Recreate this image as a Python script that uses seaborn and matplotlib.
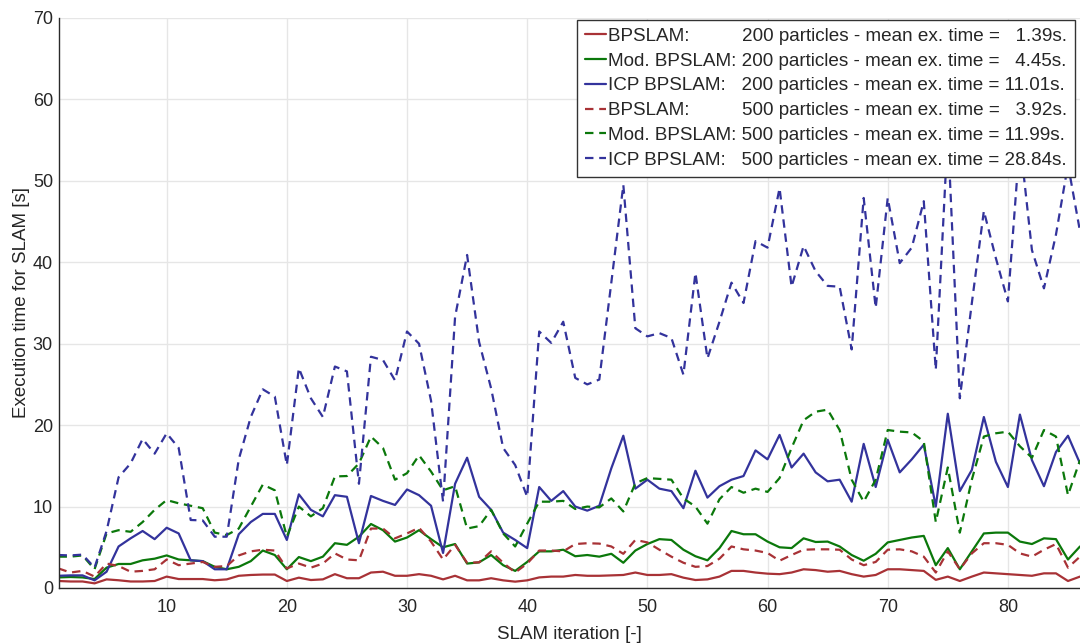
import numpy as np
import pandas as pd
import matplotlib
matplotlib.use("Agg")
import matplotlib.pyplot as plt
import seaborn as sns

iterations = list(range(1, 87))

bp200 = [0.86, 0.8, 0.8, 0.57, 1.06, 0.95, 0.8, 0.8, 0.86, 1.4, 1.1, 1.1, 1.1, 0.95, 1.06, 1.5, 1.6, 1.65, 1.65, 0.86,
         1.27, 0.98, 1.06, 1.7, 1.2, 1.2, 1.9, 2.0, 1.5, 1.5, 1.7, 1.5, 1.06, 1.5, 0.94, 0.94, 1.2, 0.94, 0.78, 0.94,
         1.3, 1.4, 1.4, 1.6, 1.5, 1.5, 1.55, 1.6, 1.9, 1.6, 1.6, 1.7, 1.27, 0.98, 1.06, 1.4, 2.1, 2.1, 1.9, 1.76,
         1.7, 1.9, 2.3, 2.2, 2.0, 2.1, 1.7, 1.4, 1.6, 2.3, 2.3, 2.2, 2.1, 1.0, 1.4, 0.86, 1.4, 1.9, 1.8, 1.7,
         1.6, 1.5, 1.8, 1.8, 0.86, 1.4]
mod200 = [1.3, 1.35, 1.3, 1.1, 2.5, 2.95, 2.95, 3.4, 3.6, 4.0, 3.5, 3.4, 3.3, 2.6, 2.3, 2.6, 3.3, 4.6, 4.05, 2.3,
          3.8, 3.3, 3.85, 5.5, 5.3, 6.3, 7.86, 7.1, 5.7, 6.2, 7.1, 6.0, 5.0, 5.4, 3.0, 3.15, 4.05, 2.8, 2.1, 3.2,
          4.5, 4.5, 4.7, 3.9, 4.05, 3.85, 4.2, 3.1, 4.6, 5.4, 6.0, 5.9, 4.7, 3.9, 3.4, 4.9, 7.0, 6.6, 6.6, 5.7,
          5.0, 4.9, 6.1, 5.65, 5.7, 5.1, 4.05, 3.35, 4.2, 5.6, 5.9, 6.2, 6.4, 2.8, 4.9, 2.3, 4.5, 6.7, 6.8, 6.8,
          5.7, 5.4, 6.1, 6.0, 3.5, 5.1]
icp200 = [1.5, 1.55, 1.55, 0.94, 2.0, 5.1, 6.1, 7.0, 6.0, 7.4, 6.7, 3.4, 3.3, 2.3, 2.3, 6.6, 8.1, 9.1, 9.1, 5.9,
          11.5, 9.6, 8.8, 11.4, 11.2, 5.5, 11.3, 10.7, 10.2, 12.1, 11.4, 10.1, 4.3, 12.8, 16.0, 11.2, 9.6, 6.8, 5.9, 4.9,
          12.4, 10.7, 11.9, 10.0, 9.5, 10.1, 14.7, 18.7, 12.2, 13.3, 12.2, 11.9, 9.8, 14.4, 11.1, 12.5, 13.3, 13.75, 16.9, 15.8,
          18.8, 14.8, 16.5, 14.2, 13.1, 13.3, 10.6, 17.7, 12.4, 18.2, 14.2, 15.8, 17.6, 10.0, 21.4, 11.9, 14.5, 21.0, 15.5, 12.4,
          21.3, 15.7, 12.5, 16.7, 18.7, 15.3]
bp500 = [2.4, 1.9, 2.1, 1.4, 3.0, 2.7, 2.0, 2.1, 2.3, 3.5, 2.8, 3.0, 3.2, 2.6, 2.7, 4.0, 4.5, 4.7, 4.6, 2.4,
         3.0, 2.5, 3.0, 4.25, 3.5, 3.4, 7.3, 7.3, 6.1, 6.7, 7.4, 5.7, 3.5, 5.3, 3.1, 3.15, 4.5, 3.1, 1.9, 3.0,
         4.6, 4.6, 4.5, 5.4, 5.5, 5.45, 5.1, 4.2, 5.9, 5.6, 4.7, 3.85, 3.1, 2.6, 2.7, 3.6, 5.1, 4.75, 4.6, 4.3,
         3.35, 4.05, 4.7, 4.75, 4.75, 4.7, 3.5, 2.8, 3.2, 4.7, 4.75, 4.5, 3.85, 1.9, 4.5, 2.3, 4.25, 5.5, 5.5, 5.3,
         4.25, 3.85, 4.7, 5.4, 2.5, 3.85]
mod500 = [3.85, 3.85, 4.0, 2.3, 6.7, 7.1, 6.9, 8.1, 9.6, 10.8, 10.4, 10.1, 9.8, 6.8, 6.5, 7.3, 10.0, 12.7, 12.0, 6.3,
          10.0, 8.8, 9.8, 13.7, 13.75, 15.3, 18.6, 17.2, 13.3, 14.1, 16.3, 14.3, 12.0, 12.5, 7.3, 7.6, 9.6, 6.7, 5.1, 7.9,
          10.6, 10.6, 10.7, 9.7, 10.0, 9.9, 11.0, 9.4, 12.85, 13.5, 13.4, 13.3, 11.0, 10.0, 7.9, 10.9, 12.4, 11.7, 12.2, 11.8,
          13.5, 17.2, 20.6, 21.65, 21.9, 19.4, 13.3, 10.6, 13.3, 19.4, 19.2, 19.1, 18.0, 8.1, 14.8, 6.8, 13.3, 18.6, 19.0, 19.2,
          17.4, 16.0, 19.4, 18.6, 11.4, 15.7]
icp500 = [4.05, 4.0, 4.1, 2.5, 7.0, 13.6, 15.3, 18.3, 16.5, 19.0, 17.2, 8.35, 8.3, 6.3, 6.3, 15.8, 21.0, 24.4, 23.5, 15.1,
          27.0, 23.3, 21.0, 27.2, 26.6, 12.8, 28.4, 28.0, 25.5, 31.5, 30.0, 23.0, 10.6, 33.3, 40.9, 30.2, 24.5, 17.2, 15.1, 11.2,
          31.5, 30.1, 32.7, 25.8, 25.0, 25.6, 37.5, 49.5, 31.9, 30.9, 31.3, 30.7, 26.2, 38.7, 28.2, 32.7, 37.5, 35.0, 42.6, 41.8,
          49.1, 37.0, 42.0, 38.9, 37.1, 37.0, 29.3, 47.9, 34.4, 47.9, 39.9, 41.8, 47.5, 26.8, 56.0, 23.3, 35.0, 46.3, 40.5, 35.2,
          55.0, 41.5, 36.8, 43.4, 52.0, 43.8]

series_labels = [
    "BPSLAM:          200 particles - mean ex. time =   1.39s.",
    "Mod. BPSLAM: 200 particles - mean ex. time =   4.45s.",
    "ICP BPSLAM:   200 particles - mean ex. time = 11.01s.",
    "BPSLAM:          500 particles - mean ex. time =   3.92s.",
    "Mod. BPSLAM: 500 particles - mean ex. time = 11.99s.",
    "ICP BPSLAM:   500 particles - mean ex. time = 28.84s.",
]
series_values = [bp200, mod200, icp200, bp500, mod500, icp500]
series_colors = ["#a83236", "#0b780b", "#33339c", "#a83236", "#0b780b", "#33339c"]
series_dashed = [False, False, False, True, True, True]

x_ticks = [10, 20, 30, 40, 50, 60, 70, 80]
y_ticks = [0, 10, 20, 30, 40, 50, 60, 70]

sns.set_theme(style="white")
plt.rcParams["font.family"] = ["Liberation Sans", "DejaVu Sans"]

fig = plt.figure(figsize=(10.8, 6.43), dpi=100)
ax = fig.add_axes([58.5 / 1080, 55 / 643, (1080 - 58.5) / 1080, 570 / 643])

for lab, vals, col, dsh in zip(series_labels, series_values, series_colors, series_dashed):
    df = pd.DataFrame({"it": iterations, "t": vals})
    sns.lineplot(data=df, x="it", y="t", ax=ax, color=col, linewidth=1.6, label=lab)
    line = ax.lines[-1]
    if dsh:
        line.set_dashes((3.8, 2.6))

ax.set_xlim(1, 86)
ax.set_ylim(0, 70)
ax.set_xticks(x_ticks)
ax.set_yticks(y_ticks)
ax.grid(True, color="#e6e6e6", linewidth=1.0)
ax.set_axisbelow(True)
for s in ["top", "right"]:
    ax.spines[s].set_visible(False)
for s in ["left", "bottom"]:
    ax.spines[s].set_color("#2a2a2a")
    ax.spines[s].set_linewidth(1.0)
ax.tick_params(axis="both", direction="in", length=7.5, width=1.0, color="#333333",
               labelsize=13, labelcolor="#262626")
ax.tick_params(axis="x", pad=8)
ax.tick_params(axis="y", pad=4)
ax.set_xlabel("SLAM iteration [-]", fontsize=13.5, color="#262626", labelpad=7)
ax.set_ylabel("Execution time for SLAM [s]", fontsize=13.5, color="#262626", labelpad=2)

leg = ax.legend(loc="upper right", bbox_to_anchor=(0.995, 0.997), borderaxespad=0,
                fontsize=13.6, frameon=True, fancybox=False, framealpha=1,
                edgecolor="#333333", handlelength=1.1, handletextpad=0.1,
                labelspacing=0.4, borderpad=0.42)
leg.get_frame().set_linewidth(1.0)

fig.savefig("out.png", dpi=100)
